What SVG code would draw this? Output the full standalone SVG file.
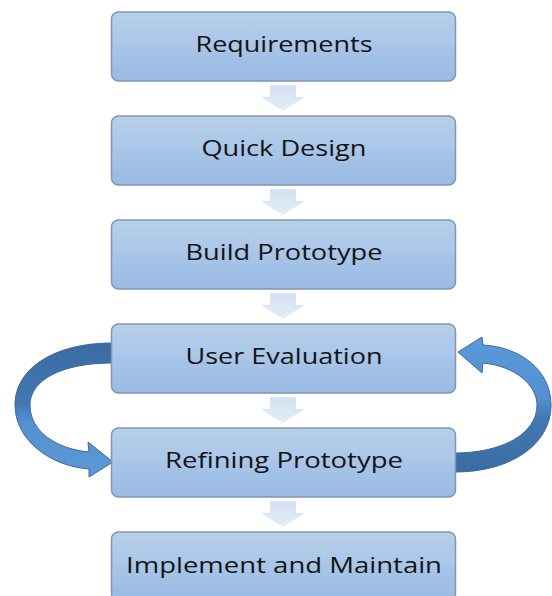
<svg xmlns="http://www.w3.org/2000/svg" width="552" height="596" viewBox="0 0 552 596">
<defs>
<linearGradient id="boxg" x1="0" y1="0" x2="0" y2="1">
<stop offset="0" stop-color="#bad0ec"/>
<stop offset="1" stop-color="#97bae4"/>
</linearGradient>
<linearGradient id="downg" x1="0" y1="0" x2="0" y2="1">
<stop offset="0" stop-color="#d3e1f2"/>
<stop offset="1" stop-color="#e4edf8"/>
</linearGradient>
<linearGradient id="leftg" x1="0" y1="0" x2="0" y2="1">
<stop offset="0" stop-color="#3a6ba2"/>
<stop offset="0.45" stop-color="#4478b4"/>
<stop offset="0.6" stop-color="#5591d0"/>
<stop offset="1" stop-color="#5b98d8"/>
</linearGradient>
<linearGradient id="rightg" x1="0" y1="0" x2="0" y2="1">
<stop offset="0" stop-color="#5b98d8"/>
<stop offset="0.45" stop-color="#5591d0"/>
<stop offset="0.6" stop-color="#4478b4"/>
<stop offset="1" stop-color="#3a6ba2"/>
</linearGradient>
<path id="down" d="M-13 0 H13 V12 H22 L0 26 L-22 12 H-13 Z"/>
</defs>
<style>
.box{fill:url(#boxg);stroke:#8495ad;stroke-width:1.5}
.lbl{font-family:"Open Sans","Liberation Sans",sans-serif;font-size:21px;fill:#141414;text-anchor:middle}
.da{fill:url(#downg)}
.curve{stroke:#3d6a9c;stroke-width:1}
</style>
<g id="connectors">
<use href="#down" class="da" x="283" y="85"/>
<use href="#down" class="da" x="283" y="189"/>
<use href="#down" class="da" x="283" y="293"/>
<use href="#down" class="da" x="283" y="397"/>
<use href="#down" class="da" x="283" y="501"/>
<path class="curve" fill="url(#leftg)" d="M112 343 C55 343 15 368 15 405 C15 440 50 466 89 469 L89 477 L113 462 L88 442 L89 452 C57 449 30 432 30 405 C30 380 62 363 112 363 Z"/>
<path class="curve" fill="url(#rightg)" d="M455 472 C510 472 551 445 551 405 C551 370 520 347 483 345 L482 337 L458 352 L482 373 L483 363 C515 366 537 385 537 405 C537 435 500 453 455 453 Z"/>
</g>
<g id="n1"><rect class="box" x="111.5" y="12" width="344" height="69" rx="7"/><text class="lbl" x="284" y="52" textLength="177" lengthAdjust="spacingAndGlyphs">Requirements</text></g>
<g id="n2"><rect class="box" x="111.5" y="116" width="344" height="69" rx="7"/><text class="lbl" x="284" y="156" textLength="165" lengthAdjust="spacingAndGlyphs">Quick Design</text></g>
<g id="n3"><rect class="box" x="111.5" y="220" width="344" height="69" rx="7"/><text class="lbl" x="284" y="260" textLength="197" lengthAdjust="spacingAndGlyphs">Build Prototype</text></g>
<g id="n4"><rect class="box" x="111.5" y="324" width="344" height="69" rx="7"/><text class="lbl" x="284" y="364" textLength="197" lengthAdjust="spacingAndGlyphs">User Evaluation</text></g>
<g id="n5"><rect class="box" x="111.5" y="428" width="344" height="69" rx="7"/><text class="lbl" x="284" y="468" textLength="238" lengthAdjust="spacingAndGlyphs">Refining Prototype</text></g>
<g id="n6"><rect class="box" x="111.5" y="532" width="344" height="69" rx="7"/><text class="lbl" x="284" y="573" textLength="316" lengthAdjust="spacingAndGlyphs">Implement and Maintain</text></g>
</svg>
